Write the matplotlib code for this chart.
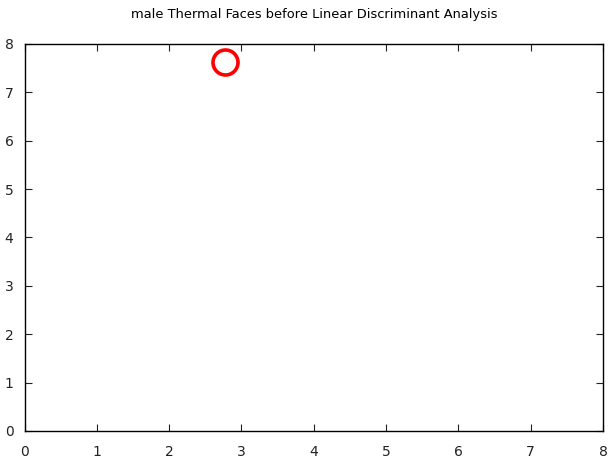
import matplotlib
matplotlib.use('Agg')
import matplotlib.pyplot as plt

# data: one projected sample
x_points = [2.77]
y_points = [7.63]
x_ticks = [0, 1, 2, 3, 4, 5, 6, 7, 8]
y_ticks = [0, 1, 2, 3, 4, 5, 6, 7, 8]

fig = plt.figure(figsize=(6.08, 4.62), dpi=100)
ax = fig.add_axes([0.0403, 0.0671, 0.9515, 0.8377])
ax.plot(x_points, y_points, 'o', markersize=18, markerfacecolor='none',
        markeredgecolor='red', markeredgewidth=2.6)
ax.set_xlim(0, 8)
ax.set_ylim(0, 8)
ax.set_xticks(x_ticks)
ax.set_yticks(y_ticks)
ax.tick_params(direction='in', length=5, width=0.8, top=True, right=True,
               labelsize=10, colors='#222222')
ax.tick_params(axis='x', pad=10)
ax.tick_params(axis='y', pad=8)
for s in ax.spines.values():
    s.set_linewidth(1.0)
ax.set_title('male Thermal Faces before Linear Discriminant Analysis', fontsize=9.4, pad=19)

fig.savefig('out.png', dpi=100)
